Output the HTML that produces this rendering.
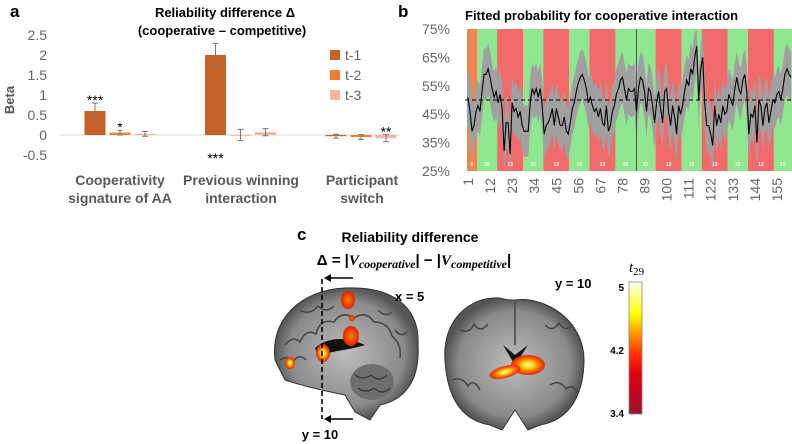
<!DOCTYPE html>
<html><head><meta charset="utf-8">
<style>
html,body{margin:0;padding:0;background:#fff;}
svg{display:block;font-family:"Liberation Sans",sans-serif;}
</style></head>
<body>
<svg id="fig" width="792" height="444" viewBox="0 0 792 444">
<defs>
<linearGradient id="cbar" x1="0" y1="1" x2="0" y2="0">
<stop offset="0" stop-color="#9b1030"/><stop offset="0.3" stop-color="#e00010"/><stop offset="0.45" stop-color="#ff3000"/><stop offset="0.6" stop-color="#ff9000"/><stop offset="0.75" stop-color="#ffff00"/><stop offset="1" stop-color="#fffff0"/>
</linearGradient>
<radialGradient id="blob"><stop offset="0" stop-color="#ffffd0"/><stop offset="0.35" stop-color="#ffd000"/><stop offset="0.7" stop-color="#ff6000"/><stop offset="1" stop-color="#e02000" stop-opacity="0.9"/></radialGradient>
<radialGradient id="blob2"><stop offset="0" stop-color="#ff8000"/><stop offset="1" stop-color="#e02000"/></radialGradient>
<radialGradient id="brainG"><stop offset="0" stop-color="#bdbdbd"/><stop offset="0.8" stop-color="#8a8a8a"/><stop offset="1" stop-color="#555"/></radialGradient>
</defs>
<g id="panelA"></g>
<g id="panelB"></g>
<g id="panelC">
  <text x="297" y="240" font-size="17" font-weight="bold">c</text>
  <text x="410" y="242" font-size="14" font-weight="bold" text-anchor="middle">Reliability difference</text>
  <text x="414" y="265" font-size="15" font-weight="bold" text-anchor="middle">Δ = |<tspan font-family="Liberation Serif" font-style="italic">V</tspan><tspan font-family="Liberation Serif" font-style="italic" font-size="12" dy="3">cooperative</tspan><tspan dy="-3">| − |</tspan><tspan font-family="Liberation Serif" font-style="italic">V</tspan><tspan font-family="Liberation Serif" font-style="italic" font-size="12" dy="3">competitive</tspan><tspan dy="-3">|</tspan></text>
  <g>
    <path d="M275,360 C270,320 300,290 345,288 C390,286 420,305 418,345 C420,380 405,400 380,405 L370,420 L355,412 L345,395 C320,390 300,385 285,380 Z" fill="url(#brainG)" stroke="#333" stroke-width="1"/>
    <path d="M285,345 q8,-10 15,-3 q6,-14 16,-8 q4,-16 18,-12 q8,-12 20,-4 q12,-8 20,4 q14,0 18,14 q10,8 8,22" fill="none" stroke="#444" stroke-width="1.5"/>
    <path d="M280,360 q10,-6 12,4 q6,-12 14,-4 M300,310 q10,6 18,-4 q8,8 16,0 M378,310 q8,8 14,2 M395,330 q6,8 12,2" fill="none" stroke="#444" stroke-width="1.5"/>
    <ellipse cx="372" cy="382" rx="22" ry="18" fill="#6e6e6e"/>
    <path d="M355,375 q8,6 16,0 q8,8 16,0 M358,388 q8,6 16,0 q8,8 16,0" fill="none" stroke="#333" stroke-width="1.2"/>
    <path d="M315,348 C330,335 350,338 365,345 C350,350 335,350 318,356 Z" fill="#111"/>
    <ellipse cx="290" cy="363" rx="5" ry="6" fill="url(#blob)"/>
    <ellipse cx="323" cy="353" rx="7" ry="9" fill="url(#blob)"/>
    <ellipse cx="351" cy="336" rx="8" ry="10" fill="url(#blob2)"/>
    <ellipse cx="348" cy="300" rx="7" ry="9" fill="url(#blob2)"/>
    <ellipse cx="352" cy="318" rx="3" ry="3" fill="url(#blob2)"/>
  </g>
  <line x1="322" y1="279" x2="322" y2="419" stroke="#000" stroke-width="1.6" stroke-dasharray="5,3"/>
  <line x1="326" y1="278" x2="353" y2="278" stroke="#000" stroke-width="1.6"/><path d="M324,278 L331,274 L331,282 Z" fill="#000"/>
  <line x1="326" y1="419" x2="353" y2="419" stroke="#000" stroke-width="1.6"/><path d="M324,419 L331,415 L331,423 Z" fill="#000"/>
  <text x="395" y="301" font-size="13" font-weight="bold">x = 5</text>
  <text x="320" y="439" font-size="13" font-weight="bold" text-anchor="middle">y = 10</text>
  <g>
    <path d="M445,360 C442,320 470,296 500,298 C505,300 512,300 515,300 C545,296 585,320 584,362 C583,395 570,420 540,425 L528,430 L515,410 L502,430 L490,425 C460,420 447,395 445,360 Z" fill="url(#brainG)" stroke="#333" stroke-width="1"/>
    <path d="M515,302 L515,345 M460,330 q10,4 14,-6 q6,10 14,0 M545,325 q8,8 14,-2 q6,10 14,2 M452,380 q10,-4 16,6 q6,-8 12,4 M550,385 q10,-6 16,4 q6,-6 12,4" fill="none" stroke="#444" stroke-width="1.5"/>
    <path d="M503,345 L515,355 L528,345 L515,365 Z" fill="#111"/>
    <ellipse cx="528" cy="365" rx="17" ry="10" fill="url(#blob)"/>
    <ellipse cx="505" cy="372" rx="16" ry="6" fill="url(#blob)" transform="rotate(-15 505 372)"/>
  </g>
  <text x="555" y="288" font-size="13" font-weight="bold">y = 10</text>
  <text x="629" y="272" font-size="15" font-family="Liberation Serif" font-style="italic">t<tspan font-style="normal" font-size="11" dy="3">29</tspan></text>
  <rect x="629" y="282" width="13" height="132" fill="url(#cbar)" stroke="#888" stroke-width="0.8"/>
  <text x="624" y="291" font-size="10" font-weight="bold" text-anchor="end">5</text>
  <text x="624" y="354" font-size="10" font-weight="bold" text-anchor="end">4.2</text>
  <text x="624" y="417" font-size="10" font-weight="bold" text-anchor="end">3.4</text>
</g>
</svg>
<script>
const NS="http://www.w3.org/2000/svg";
function mk(p,tag,attrs,txt){const e=document.createElementNS(NS,tag);for(const k in attrs)e.setAttribute(k,attrs[k]);if(txt!==undefined)e.textContent=txt;p.appendChild(e);return e;}

/* ---------- Panel A data ---------- */
const aCategories=[["Cooperativity","signature of AA"],["Previous winning","interaction"],["Participant","switch"]];
const aSeries=["t-1","t-2","t-3"];
const aValues=[[0.6,0.06,0.03],[2.0,0.0,0.07],[-0.03,-0.05,-0.08]];
const aErrors=[[0.2,0.06,0.06],[0.29,0.14,0.09],[0.05,0.06,0.09]];
const aStars=[["***","*",""],["***","",""],["","","**"]];
const aTicks=[2.5,2,1.5,1,0.5,0,-0.5];
const aColors=["#c5622a","#ed7d31","#f4b6a2"];

const A=document.getElementById("panelA");
const ay=v=>135-v*40;
const ax=(c,s)=>120+c*120.5+(s-1)*25;
mk(A,"text",{x:10,y:17,"font-size":17,"font-weight":"bold",},"a");
mk(A,"text",{x:225,y:17,"font-size":13,"font-weight":"bold","text-anchor":"middle",},"Reliability difference Δ");
mk(A,"text",{x:222,y:35,"font-size":13,"font-weight":"bold","text-anchor":"middle",},"(cooperative – competitive)");
let yt=mk(A,"text",{x:0,y:0,"font-size":13,"font-weight":"bold",fill:"#555","text-anchor":"middle",transform:"translate(14,100) rotate(-90)"},"Beta");


aTicks.forEach(t=>{const e=mk(A,"text",{x:47,y:ay(t)+5,"font-size":14,fill:"#666","text-anchor":"end"},String(t));

});
const zl=mk(A,"line",{x1:60,y1:ay(0),x2:400,y2:ay(0),stroke:"#d9d9d9","stroke-width":1});


aValues.forEach((row,c)=>{row.forEach((v,s)=>{
  const x=ax(c,s),w=21;
  const r=mk(A,"rect",{x:x-w/2,y:Math.min(ay(v),ay(0)),width:w,height:Math.max(Math.abs(ay(v)-ay(0)),0.5),fill:aColors[s]});
  
  
  const e=aErrors[c][s];
  const eb=mk(A,"path",{d:`M${x},${ay(v+e)}V${ay(v-e)}M${x-3},${ay(v+e)}H${x+3}M${x-3},${ay(v-e)}H${x+3}`,stroke:"#777","stroke-width":1,fill:"none"});
  
  
  const st=aStars[c][s];
  if(st){const y2=(c==1&&s==0)?ay(0)+22:ay(v+e)-4;
    const t=mk(A,"text",{x:x,y:y2+6,"font-size":14,"text-anchor":"middle"},st);
    
    }
});});
aCategories.forEach((lines,c)=>{lines.forEach((l,i)=>{
  const t=mk(A,"text",{x:120+c*121,y:185+i*18,"font-size":14,"font-weight":"bold",fill:"#595959","text-anchor":"middle"},l);
  
  });});
aSeries.forEach((s,i)=>{
  const r=mk(A,"rect",{x:330,y:50+i*20,width:10,height:10,fill:aColors[i]});
  
  
  const t=mk(A,"text",{x:345,y:60+i*20,"font-size":14,fill:"#666"},s);
  
  });

/* ---------- Panel B data ---------- */
const bBlockLengths=[5,10,13,10,13,10,13,10,10,13,10,13,10,13,10];
const bBlockTypes=["o","g","r","g","r","g","r","g","g","r","g","r","g","r","g"];
const bProb=[51,46,39,41,46,48,46,53,59,59,61,58,54,51,53,49,52,47,32,42,42,31,49,46,47,44,46,41,39,39,39,49,54,52,54,51,54,48,38,41,42,44,47,41,47,44,41,41,44,39,38,42,47,49,53,56,58,59,57,54,49,51,48,46,47,44,47,42,41,48,39,41,46,48,52,54,57,58,54,50,54,53,53,54,46,54,58,57,53,46,54,53,48,42,49,53,47,42,53,54,46,41,48,44,38,48,45,48,53,57,55,61,59,65,69,50,61,65,49,41,41,38,34,48,41,45,42,48,45,46,52,50,48,54,58,54,52,57,59,53,38,45,44,48,35,50,48,41,47,49,42,46,50,49,52,53,50,54,59,61,59,58];
const bSE=[9];
const bTicks=["25%","35%","45%","55%","65%","75%"];
const bTickVals=[25,35,45,55,65,75];
const bXTicks=[1,12,23,34,45,56,67,78,89,100,111,122,133,144,155];

const B=document.getElementById("panelB");
const bx=t=>468+(t-1)*2.006;
const by=v=>29+(75-v)*2.84;
const L=mk(B,"text",{x:398,y:17,"font-size":17,"font-weight":"bold"},"b");


const bt=mk(B,"text",{x:465,y:20,"font-size":13,"font-weight":"bold"},"Fitted probability for cooperative interaction");


const colMap={o:"#e38b50",g:"#8fe88f",r:"#f26b6b"};
let start=0.5;
bBlockLengths.forEach((n,i)=>{
  const x0=Math.max(465,bx(start)),x1=Math.min(792,bx(start+n));
  const r=mk(B,"rect",{x:x0,y:29,width:x1-x0,height:142,fill:colMap[bBlockTypes[i]]});
  
  
  const t=mk(B,"text",{x:(x0+x1)/2,y:166,"font-size":5,fill:"#fff","text-anchor":"middle","font-weight":"bold"},String(n));
  
  
  start+=n;});
let up="",lo="";
bProb.forEach((v,i)=>{const t=i+1;up+=(i?"L":"M")+bx(t).toFixed(1)+","+by(Math.min(75,v+bSE[0])).toFixed(1);});
for(let i=bProb.length-1;i>=0;i--){lo+="L"+bx(i+1).toFixed(1)+","+by(Math.max(25,bProb[i]-bSE[0])).toFixed(1);}
const band=mk(B,"path",{d:up+lo+"Z",fill:"#a0a0a0"});


const vl=mk(B,"line",{x1:bx(85),y1:29,x2:bx(85),y2:171,stroke:"#333","stroke-width":0.8});


const ref=mk(B,"line",{x1:465,y1:by(50),x2:792,y2:by(50),stroke:"#000","stroke-width":1,"stroke-dasharray":"4,3"});


let d="";bProb.forEach((v,i)=>{d+=(i?"L":"M")+bx(i+1).toFixed(1)+","+by(v).toFixed(1);});
const ln=mk(B,"path",{d:d,fill:"none",stroke:"#000","stroke-width":1.1});


bTickVals.forEach((v,i)=>{const t=mk(B,"text",{x:450,y:by(v)+5,"font-size":14,fill:"#666","text-anchor":"end"},bTicks[i]);

});
bXTicks.forEach(v=>{const t=mk(B,"text",{x:0,y:0,"font-size":14,fill:"#666","text-anchor":"end",transform:`translate(${bx(v)+5},178) rotate(-90)`},String(v));

});
</script>
</body></html>
